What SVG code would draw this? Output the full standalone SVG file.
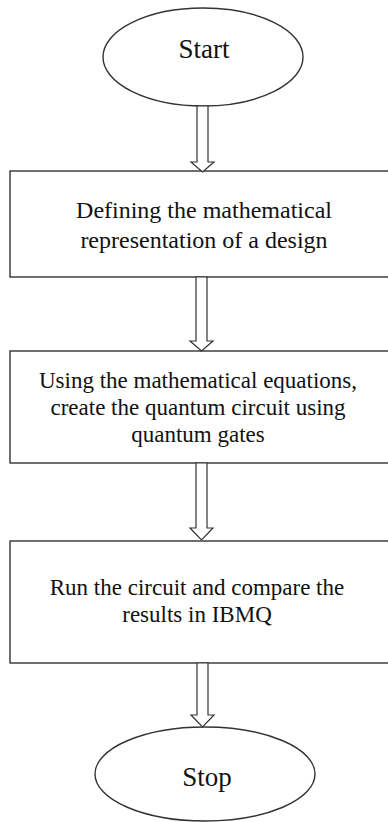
<svg xmlns="http://www.w3.org/2000/svg" width="388" height="822" viewBox="0 0 388 822">
<style>
.shape{fill:#fff;stroke:#333;stroke-width:1.4}
.arrow{fill:#fff;stroke:#333;stroke-width:1.2}
text{font-family:'Liberation Serif','Times New Roman',serif;fill:#111;text-anchor:middle}
.t{font-size:23px}
.big{font-size:27px}
</style>
<rect width="388" height="822" fill="#fff"/>
<g id="start">
<ellipse class="shape" cx="203" cy="57" rx="100" ry="49"/>
<text class="big" x="204" y="58" font-family="Liberation Serif, serif">Start</text>
</g>
<g id="step1">
<rect class="shape" x="10" y="171" width="392" height="106"/>
<text class="t" x="204" y="218" style="font-size:24px" font-family="Liberation Serif, serif">Defining the mathematical</text>
<text class="t" x="204" y="248" style="font-size:24px" font-family="Liberation Serif, serif">representation of a design</text>
</g>
<g id="step2">
<rect class="shape" x="10" y="351" width="392" height="112"/>
<text class="t" x="198" y="388" font-family="Liberation Serif, serif">Using the mathematical equations,</text>
<text class="t" x="198" y="415" font-family="Liberation Serif, serif">create the quantum circuit using</text>
<text class="t" x="198" y="442" font-family="Liberation Serif, serif">quantum gates</text>
</g>
<g id="step3">
<rect class="shape" x="10" y="541" width="392" height="122"/>
<text class="t" x="197" y="595" font-family="Liberation Serif, serif">Run the circuit and compare the</text>
<text class="t" x="197" y="622" font-family="Liberation Serif, serif">results in IBMQ</text>
</g>
<g id="stop">
<ellipse class="shape" cx="205" cy="774" rx="110" ry="47"/>
<text class="big" x="207" y="786" font-family="Liberation Serif, serif">Stop</text>
</g>
<g id="connectors">
<polygon class="arrow" points="197,106 208,106 208,162 214,162 202.5,172 191,162 197,162"/>
<polygon class="arrow" points="196,277 207,277 207,341 213,341 201.5,351 190,341 196,341"/>
<polygon class="arrow" points="196,463 207,463 207,528 213,528 201.5,540 190,528 196,528"/>
<polygon class="arrow" points="197,663 208,663 208,715 214,715 202.5,727 191,715 197,715"/>
</g>
</svg>
